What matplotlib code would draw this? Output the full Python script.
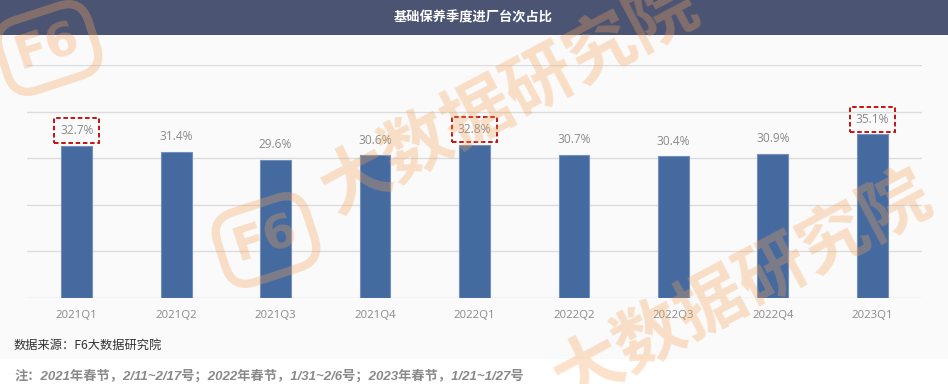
import matplotlib
matplotlib.use("Agg")
import matplotlib.pyplot as plt
from matplotlib.patches import Rectangle

plt.rcParams['font.family'] = ['Open Sans', 'Noto Sans CJK SC', 'DejaVu Sans']

categories = ["2021Q1", "2021Q2", "2021Q3", "2021Q4", "2022Q1",
              "2022Q2", "2022Q3", "2022Q4", "2023Q1"]
values = [32.7, 31.4, 29.6, 30.6, 32.8, 30.7, 30.4, 30.9, 35.1]
highlight = ["2021Q1", "2022Q1", "2023Q1"]
title = "基础保养季度进厂台次占比"
source = "数据来源：F6大数据研究院"
note = "注：2021年春节，2/11~2/17号；2022年春节，1/31~2/6号；2023年春节，1/21~1/27号"
watermark = "大数据研究院"

W, H = 948, 384
fig = plt.figure(figsize=(W / 100, H / 100), dpi=100, facecolor="white")

# backgrounds
fig.patches.append(Rectangle((0, (H - 359) / H), 1, (359 - 35) / H,
                             transform=fig.transFigure, facecolor="#fafafa",
                             edgecolor="none", zorder=-5))
fig.patches.append(Rectangle((0, (H - 35) / H), 1, 35 / H,
                             transform=fig.transFigure, facecolor="#4b5573",
                             edgecolor="none", zorder=-5))

ax = fig.add_axes([27 / W, (H - 298) / H, (922 - 27) / W, (298 - 65) / H])
ax.set_zorder(1)
ax.set_facecolor("none")
x = list(range(len(categories)))
ax.bar(x, values, width=0.31, color="#446a9f", edgecolor="#7590bb",
       linewidth=0.8, zorder=3)
ax.set_xlim(-0.5, len(categories) - 0.5)
ax.set_ylim(0, 50)
ax.set_yticks([0, 10, 20, 30, 40, 50])
ax.yaxis.grid(True, color="#dcdcdc", linewidth=1.0, zorder=0)
ax.set_axisbelow(True)
ax.tick_params(axis="y", length=0, labelleft=False)
ax.tick_params(axis="x", length=0, pad=9, labelsize=8.2, labelcolor="#8a8a8a")
ax.set_xticks(x)
ax.set_xticklabels(categories)
for s in ax.spines.values():
    s.set_visible(False)

for xi, cat, v in zip(x, categories, values):
    kw = {}
    if cat in highlight:
        kw["bbox"] = dict(boxstyle="square,pad=0.5", facecolor="none",
                          edgecolor="#c00000", linestyle=(0, (2.5, 1.5)),
                          linewidth=1.3)
    ax.annotate(f"{v:.1f}%", (xi, v), xytext=(0, 11),
                textcoords="offset points", ha="center", va="center",
                fontsize=8.6, color="#8a8a8a", zorder=5, **kw)

fig.text(473 / W, 1 - 17 / H, title, color="white", fontsize=9.5,
         fontweight="bold", ha="center", va="center",
         family=["Noto Sans CJK SC", "DejaVu Sans"])
fig.text(14 / W, 1 - 345.5 / H, source, color="#333333", fontsize=8.8,
         ha="left", va="center", family=["Noto Sans CJK SC", "DejaVu Sans"])
fig.text(14 / W, 1 - 376 / H, note, color="#8a8a8a", fontsize=9.5,
         fontweight="bold", style="italic", ha="left", va="center",
         family=["Liberation Sans", "Noto Sans CJK SC"])

# watermark
wm_color = "#f7a35c"
wm_alpha = 0.32
for sx, sy in [(326, 196), (559, 386)]:
    fig.text(sx / W, 1 - sy / H, watermark, rotation=28, rotation_mode="anchor",
             ha="left", va="center", fontsize=50, fontweight="bold",
             color=wm_color, alpha=wm_alpha, zorder=10,
             family=["Noto Sans CJK SC", "DejaVu Sans"])
for lx, ly in [(266, 240), (48, 48)]:
    fig.text(lx / W, 1 - ly / H, "F6", rotation=18, ha="center", va="center",
             fontsize=34, fontweight="bold", color=wm_color, alpha=wm_alpha,
             zorder=10, family=["DejaVu Sans"],
             bbox=dict(boxstyle="round,pad=0.3,rounding_size=0.5",
                       facecolor="none", edgecolor=wm_color, linewidth=6,
                       alpha=wm_alpha))

fig.savefig("out.png", dpi=100, facecolor="white")
